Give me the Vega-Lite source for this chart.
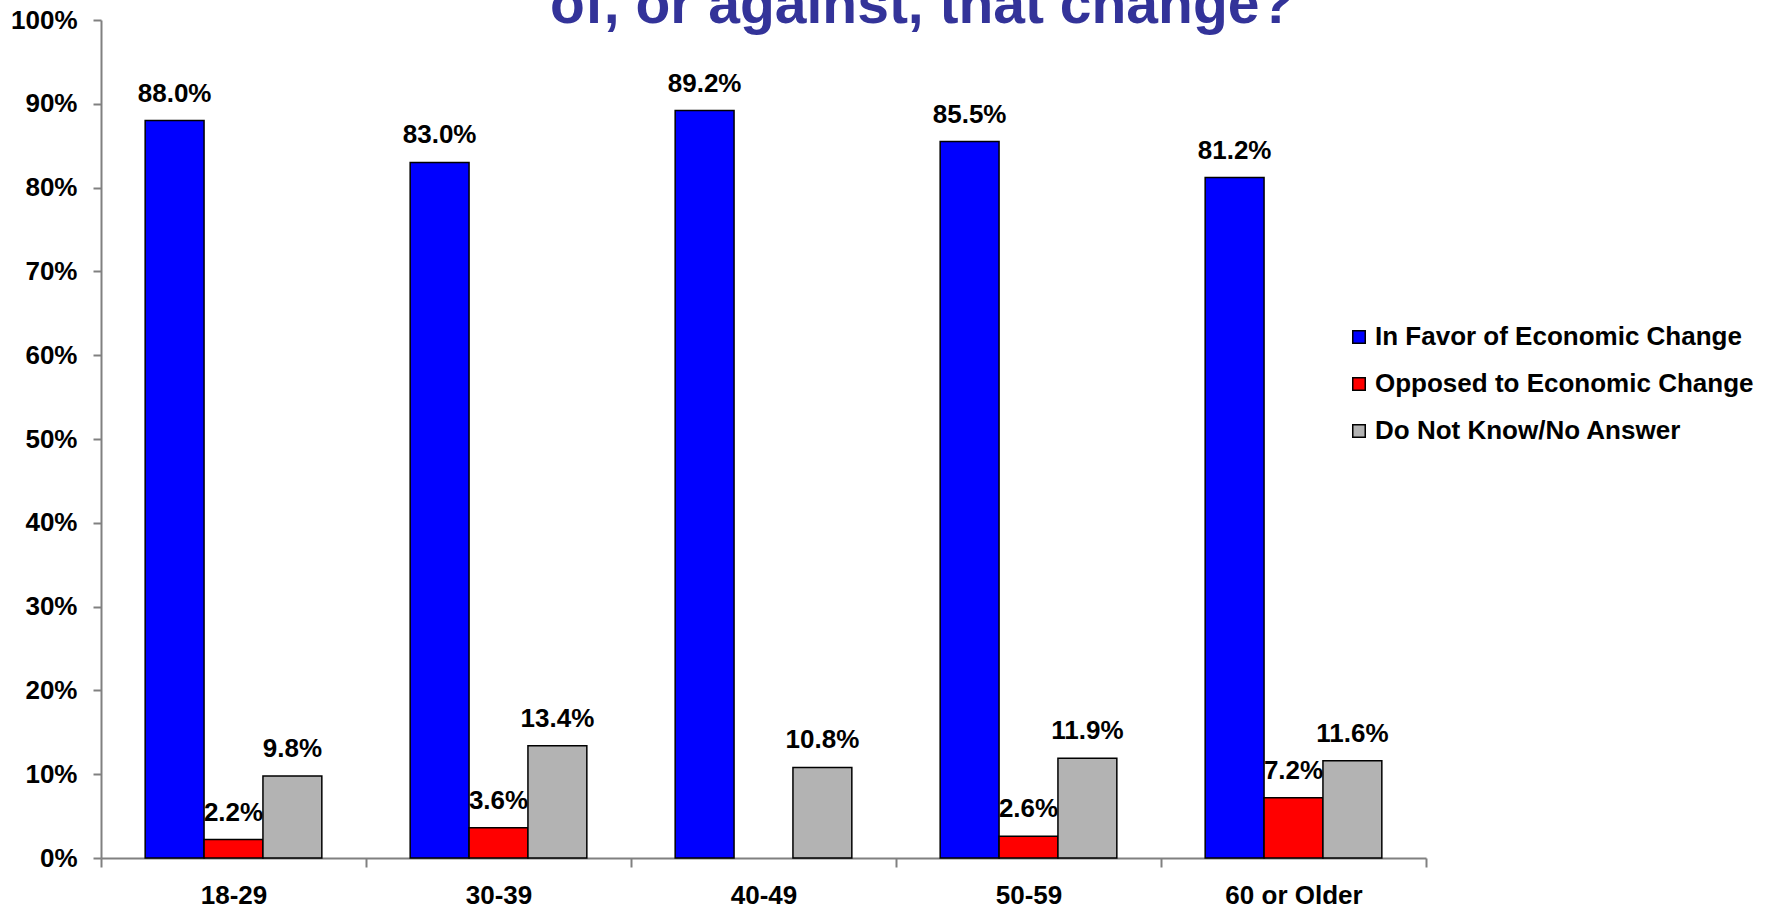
{
  "$schema": "https://vega.github.io/schema/vega-lite/v6.json",
  "width": 1325,
  "height": 838,
  "autosize": {"type": "none"},
  "padding": {"left": 101, "top": 20, "right": 351, "bottom": 52},
  "background": "white",
  "config": {"view": {"stroke": null}},
  "title": {
    "text": "of, or against, that change?",
    "font": "Liberation Sans",
    "fontSize": 57,
    "fontWeight": "bold",
    "color": "#333399",
    "anchor": "start",
    "frame": "group",
    "baseline": "alphabetic",
    "offset": 0,
    "dx": 449,
    "dy": 73
  },
  "data": {
    "values": [
      {"age": "18-29", "response": "In Favor of Economic Change", "value": 0.880},
      {"age": "18-29", "response": "Opposed to Economic Change", "value": 0.022},
      {"age": "18-29", "response": "Do Not Know/No Answer", "value": 0.098},
      {"age": "30-39", "response": "In Favor of Economic Change", "value": 0.830},
      {"age": "30-39", "response": "Opposed to Economic Change", "value": 0.036},
      {"age": "30-39", "response": "Do Not Know/No Answer", "value": 0.134},
      {"age": "40-49", "response": "In Favor of Economic Change", "value": 0.892},
      {"age": "40-49", "response": "Do Not Know/No Answer", "value": 0.108},
      {"age": "50-59", "response": "In Favor of Economic Change", "value": 0.855},
      {"age": "50-59", "response": "Opposed to Economic Change", "value": 0.026},
      {"age": "50-59", "response": "Do Not Know/No Answer", "value": 0.119},
      {"age": "60 or Older", "response": "In Favor of Economic Change", "value": 0.812},
      {"age": "60 or Older", "response": "Opposed to Economic Change", "value": 0.072},
      {"age": "60 or Older", "response": "Do Not Know/No Answer", "value": 0.116}
    ]
  },
  "encoding": {
    "x": {
      "field": "age",
      "type": "nominal",
      "sort": ["18-29", "30-39", "40-49", "50-59", "60 or Older"],
      "scale": {"paddingInner": 0, "paddingOuter": 0},
      "axis": {
        "title": null,
        "labelAngle": 0,
        "tickBand": "extent",
        "labelFont": "Liberation Sans",
        "labelFontSize": 26,
        "labelFontWeight": "bold",
        "labelColor": "black",
        "labelPadding": 15,
        "domainColor": "#808080",
        "domainWidth": 2,
        "tickColor": "#808080",
        "tickWidth": 2,
        "tickSize": 9
      }
    },
    "xOffset": {
      "field": "response",
      "type": "nominal",
      "sort": ["In Favor of Economic Change", "Opposed to Economic Change", "Do Not Know/No Answer"],
      "scale": {"paddingInner": 0, "paddingOuter": 0.75}
    },
    "y": {
      "field": "value",
      "type": "quantitative",
      "scale": {"domain": [0, 1], "nice": false},
      "axis": {
        "title": null,
        "grid": false,
        "values": [0, 0.1, 0.2, 0.3, 0.4, 0.5, 0.6, 0.7, 0.8, 0.9, 1.0],
        "format": ".0%",
        "labelFont": "Liberation Sans",
        "labelFontSize": 26,
        "labelFontWeight": "bold",
        "labelColor": "black",
        "labelPadding": 16,
        "domainColor": "#808080",
        "domainWidth": 2,
        "tickColor": "#808080",
        "tickWidth": 2,
        "tickSize": 8
      }
    }
  },
  "layer": [
    {
      "mark": {"type": "bar", "stroke": "black", "strokeWidth": 1.5},
      "encoding": {
        "color": {
          "field": "response",
          "type": "nominal",
          "sort": ["In Favor of Economic Change", "Opposed to Economic Change", "Do Not Know/No Answer"],
          "scale": {
            "domain": ["In Favor of Economic Change", "Opposed to Economic Change", "Do Not Know/No Answer"],
            "range": ["#0000FF", "#FF0000", "#B3B3B3"]
          },
          "legend": {
            "title": null,
            "orient": "none",
            "legendX": 1245,
            "legendY": 304,
            "symbolType": "square",
            "symbolSize": 156,
            "symbolStrokeColor": "black",
            "symbolStrokeWidth": 1.5,
            "symbolOpacity": 1,
            "labelFont": "Liberation Sans",
            "labelFontSize": 26,
            "labelFontWeight": "bold",
            "labelColor": "black",
            "labelLimit": 500,
            "labelOffset": 3,
            "rowPadding": 21
          }
        }
      }
    },
    {
      "mark": {
        "type": "text",
        "baseline": "bottom",
        "dy": -14,
        "font": "Liberation Sans",
        "fontSize": 26,
        "fontWeight": "bold",
        "color": "black"
      },
      "encoding": {
        "text": {"field": "value", "type": "quantitative", "format": ".1%"}
      }
    }
  ]
}
